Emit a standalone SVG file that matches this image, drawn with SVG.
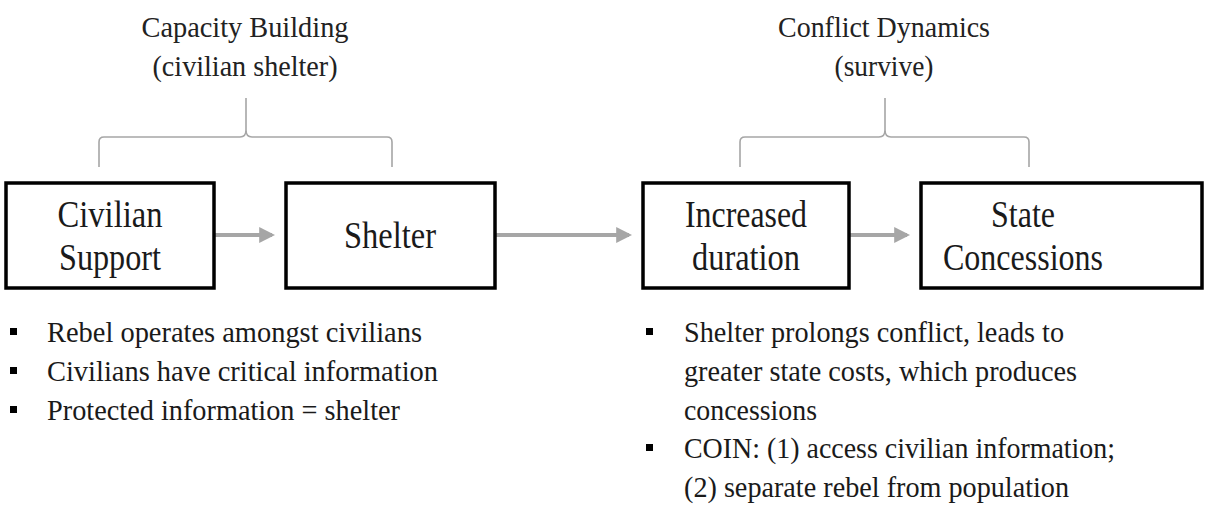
<svg xmlns="http://www.w3.org/2000/svg" width="1206" height="511" viewBox="0 0 1206 511">
<style>
.box{fill:#fff;stroke:#000;stroke-width:3.5}
.lbl{font-size:37px;fill:#1a1a1a;text-anchor:middle}
.hdr{font-size:29px;fill:#222;text-anchor:middle}
.bt{font-size:28.5px;fill:#1a1a1a}
.brace{fill:none;stroke:#a6a6a6;stroke-width:1.6}
.conn{stroke:#a6a6a6;stroke-width:4;fill:none}
.bul{fill:#000}
</style>
<defs>
<marker id="ah" markerWidth="4" markerHeight="4" refX="3.2" refY="2" orient="auto" markerUnits="strokeWidth">
<path d="M0,0 L4,2 L0,4 z" fill="#a6a6a6"/>
</marker>
</defs>
<rect width="1206" height="511" fill="#fff"/>
<g font-family="'Liberation Serif', 'Times New Roman', Times, serif">
<g id="headers">
<text class="hdr" x="245" y="37" textLength="207" lengthAdjust="spacingAndGlyphs">Capacity Building</text>
<text class="hdr" x="245" y="76" textLength="185" lengthAdjust="spacingAndGlyphs">(civilian shelter)</text>
<text class="hdr" x="884" y="37" textLength="212" lengthAdjust="spacingAndGlyphs">Conflict Dynamics</text>
<text class="hdr" x="884" y="76" textLength="99" lengthAdjust="spacingAndGlyphs">(survive)</text>
</g>
<g id="braces">
<path class="brace" d="M99,167 L99,142 Q99,137 104,137 L240,137 Q246,137 246,130 L246,98 M246,130 Q246,137 252,137 L387,137 Q392,137 392,142 L392,167"/>
<path class="brace" d="M740,167 L740,142 Q740,137 745,137 L879,137 Q885,137 885,130 L885,98 M885,130 Q885,137 891,137 L1024,137 Q1029,137 1029,142 L1029,167"/>
</g>
<g id="connectors">
<line class="conn" x1="214" y1="235" x2="272" y2="235" marker-end="url(#ah)"/>
<line class="conn" x1="495" y1="235" x2="629" y2="235" marker-end="url(#ah)"/>
<line class="conn" x1="849" y1="235" x2="907" y2="235" marker-end="url(#ah)"/>
</g>
<g id="node-civilian-support">
<rect class="box" x="6" y="183" width="208" height="105"/>
<text class="lbl" x="110" y="227" textLength="105" lengthAdjust="spacingAndGlyphs">Civilian</text>
<text class="lbl" x="110" y="270" textLength="102" lengthAdjust="spacingAndGlyphs">Support</text>
</g>
<g id="node-shelter">
<rect class="box" x="286" y="183" width="209" height="105"/>
<text class="lbl" x="390" y="248" textLength="92" lengthAdjust="spacingAndGlyphs">Shelter</text>
</g>
<g id="node-increased-duration">
<rect class="box" x="643" y="183" width="206" height="105"/>
<text class="lbl" x="746" y="227" textLength="122" lengthAdjust="spacingAndGlyphs">Increased</text>
<text class="lbl" x="746" y="270" textLength="108" lengthAdjust="spacingAndGlyphs">duration</text>
</g>
<g id="node-state-concessions">
<rect class="box" x="921" y="183" width="281" height="105"/>
<text class="lbl" x="1023" y="227" textLength="64" lengthAdjust="spacingAndGlyphs">State</text>
<text class="lbl" x="1023" y="270" textLength="160" lengthAdjust="spacingAndGlyphs">Concessions</text>
</g>
<g id="bullets-left">
<rect class="bul" x="10" y="328" width="7" height="7"/>
<rect class="bul" x="10" y="367" width="7" height="7"/>
<rect class="bul" x="10" y="406" width="7" height="7"/>
<text class="bt" x="47" y="342" textLength="375" lengthAdjust="spacingAndGlyphs">Rebel operates amongst civilians</text>
<text class="bt" x="47" y="381" textLength="391" lengthAdjust="spacingAndGlyphs">Civilians have critical information</text>
<text class="bt" x="47" y="420" textLength="353" lengthAdjust="spacingAndGlyphs">Protected information = shelter</text>
</g>
<g id="bullets-right">
<rect class="bul" x="646" y="328" width="7" height="7"/>
<rect class="bul" x="646" y="444" width="7" height="7"/>
<text class="bt" x="684" y="342" textLength="380" lengthAdjust="spacingAndGlyphs">Shelter prolongs conflict, leads to</text>
<text class="bt" x="684" y="381" textLength="393" lengthAdjust="spacingAndGlyphs">greater state costs, which produces</text>
<text class="bt" x="684" y="420" textLength="133" lengthAdjust="spacingAndGlyphs">concessions</text>
<text class="bt" x="684" y="458" textLength="431" lengthAdjust="spacingAndGlyphs">COIN: (1) access civilian information;</text>
<text class="bt" x="684" y="497" textLength="385" lengthAdjust="spacingAndGlyphs">(2) separate rebel from population</text>
</g>
</g>
</svg>
